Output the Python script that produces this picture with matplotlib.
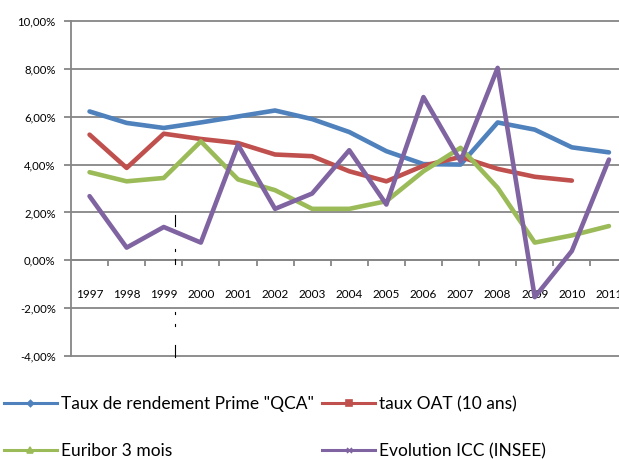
import matplotlib
matplotlib.use("Agg")
import matplotlib.pyplot as plt
from matplotlib.lines import Line2D
from matplotlib.ticker import FuncFormatter, FixedLocator

plt.rcParams['font.family'] = ['Lato', 'DejaVu Sans']

years = ['1997', '1998', '1999', '2000', '2001', '2002', '2003', '2004',
         '2005', '2006', '2007', '2008', '2009', '2010', '2011']
qca = [6.22, 5.74, 5.53, 5.76, 6.01, 6.26, 5.90, 5.36, 4.56, 4.02, 4.00, 5.76, 5.46, 4.72, 4.51]
oat = [5.25, 3.86, 5.29, 5.07, 4.90, 4.42, 4.35, 3.72, 3.30, 3.95, 4.32, 3.82, 3.49, 3.33, None]
euribor = [3.68, 3.30, 3.44, 4.97, 3.38, 2.93, 2.15, 2.15, 2.47, 3.72, 4.70, 3.03, 0.74, 1.04, 1.43]
icc = [2.68, 0.53, 1.39, 0.74, 4.83, 2.15, 2.79, 4.60, 2.33, 6.82, 4.14, 8.04, -1.54, 0.39, 4.21]

labels = ['Taux de rendement Prime "QCA"', 'taux OAT (10 ans)', 'Euribor 3 mois', 'Evolution ICC (INSEE)']
colors = ['#4F81BD', '#C0504D', '#9BBB59', '#8064A2']
markers = ['D', 's', '^', 'x']
msizes = [3.5, 5, 5, 4]

W, H = 619, 459
fig = plt.figure(figsize=(W / 100, H / 100), dpi=100)
left, right, top, bottom = 71, 627.5, 21, 356
ax = fig.add_axes([left / W, 1 - bottom / H, (right - left) / W, (bottom - top) / H])

x = list(range(len(years)))
grid_c = '#868686'
for v in range(-4, 11, 2):
    ax.axhline(v, color=grid_c, lw=1.3, zorder=1, clip_on=False)

series = [qca, oat, euribor, icc]
for s, c in zip(series, colors):
    xs = [i for i, v in zip(x, s) if v is not None]
    ys = [v for v in s if v is not None]
    ax.plot(xs, ys, color=c, lw=3.3, zorder=3, solid_joinstyle='round', solid_capstyle='round')

ax.set_xlim(-0.5, len(years) - 0.5)
ax.set_ylim(-4, 10)

for sp in ['top', 'right']:
    ax.spines[sp].set_visible(False)
ax.spines['left'].set_color(grid_c)
ax.spines['left'].set_linewidth(1.3)
ax.spines['bottom'].set_position(('data', 0))
ax.spines['bottom'].set_color(grid_c)
ax.spines['bottom'].set_linewidth(1.3)

ax.yaxis.set_major_locator(FixedLocator(range(-4, 11, 2)))
ax.yaxis.set_major_formatter(FuncFormatter(lambda v, p: f"{v:.2f}".replace('.', ',') + '%'))
ax.tick_params(axis='y', length=5, width=1.3, color=grid_c, pad=6, labelsize=8.2, labelcolor='#000000')

ax.set_xticks(x)
ax.set_xticklabels(years)
ax.set_xticks([i + 0.5 for i in x[:-1]], minor=True)
ax.tick_params(axis='x', which='major', length=0, pad=21, labelsize=8.5, labelcolor='#000000')
ax.tick_params(axis='x', which='minor', length=4, width=1.3, color=grid_c, direction='out')

# stray dashed vertical mark
xv = (174.5 - left) / ((right - left) / len(years)) - 0.5
for y0, y1 in [(215, 226), (249, 251), (259, 264), (312, 314), (324, 326), (345, 357)]:
    v0 = 10 - (y0 - top) / (bottom - top) * 14
    v1 = 10 - (y1 - top) / (bottom - top) * 14
    ax.plot([xv, xv], [v0, v1], color='black', lw=0.8, zorder=4, clip_on=False)

handles = [Line2D([0], [0], color=c, lw=2.2, marker=m, ms=ms * 0.9, mew=1.2, mfc=c, mec=c)
           for c, m, ms in zip(colors, markers, msizes)]
order = [0, 2, 1, 3]
fig.legend([handles[i] for i in order], [labels[i] for i in order],
           loc='upper left', bbox_to_anchor=(4 / W, 1 - 396 / H), ncol=2, frameon=False,
           fontsize=12.5, handlelength=3.05, handletextpad=0.25, columnspacing=0.45,
           labelspacing=1.8, borderpad=0, borderaxespad=0)

fig.savefig('out.png', dpi=100)
